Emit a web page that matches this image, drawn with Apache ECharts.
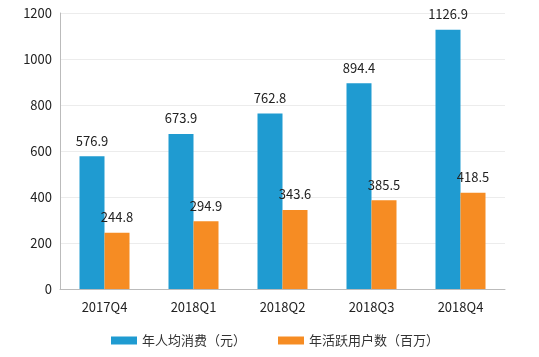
<!DOCTYPE html>
<html><head><meta charset="utf-8">
<script src="https://cdn.jsdelivr.net/npm/echarts@6/dist/echarts.min.js"></script>
<style>html,body{margin:0;padding:0;background:#fff}#c{width:539px;height:357px}</style>
</head><body><div id="c"></div>
<script>
var categories = ['2017Q4','2018Q1','2018Q2','2018Q3','2018Q4'];
var spending = [576.9, 673.9, 762.8, 894.4, 1126.9];
var users = [244.8, 294.9, 343.6, 385.5, 418.5];
var seriesNames = ['年人均消费（元）','年活跃用户数（百万）'];
var chart = echarts.init(document.getElementById('c'));
var font = '"Microsoft YaHei","Noto Sans CJK SC","Noto Sans",sans-serif';
var lbl = {show:true, position:'top', distance:9, color:'#222', fontSize:13, fontFamily:font};
chart.setOption({
  animation:false,
  textStyle:{fontFamily:font},
  grid:{left:60, right:34, top:13, bottom:68},
  legend:{left:106, bottom:5, itemWidth:26, itemHeight:8, itemGap:32, icon:'rect',
    textStyle:{color:'#333', fontSize:13, fontFamily:font},
    data:seriesNames},
  xAxis:{type:'category', data:categories,
    axisLine:{lineStyle:{color:'#bbb'}}, axisTick:{show:false},
    axisLabel:{color:'#222', fontSize:13, margin:12}},
  yAxis:{type:'value', min:0, max:1200, interval:200,
    axisLine:{show:true, lineStyle:{color:'#bbb'}}, axisTick:{show:false},
    axisLabel:{color:'#222', fontSize:13, margin:8, formatter:function(v){return String(v);}},
    splitLine:{lineStyle:{color:'#ececec'}}},
  series:[
    {name:seriesNames[0], type:'bar', data:spending, barWidth:25, barGap:'0%',
     itemStyle:{color:'#1f9bd1'}, label:lbl},
    {name:seriesNames[1], type:'bar', data:users, barWidth:25,
     itemStyle:{color:'#f68c23'}, label:lbl}
  ]
});
</script></body></html>
